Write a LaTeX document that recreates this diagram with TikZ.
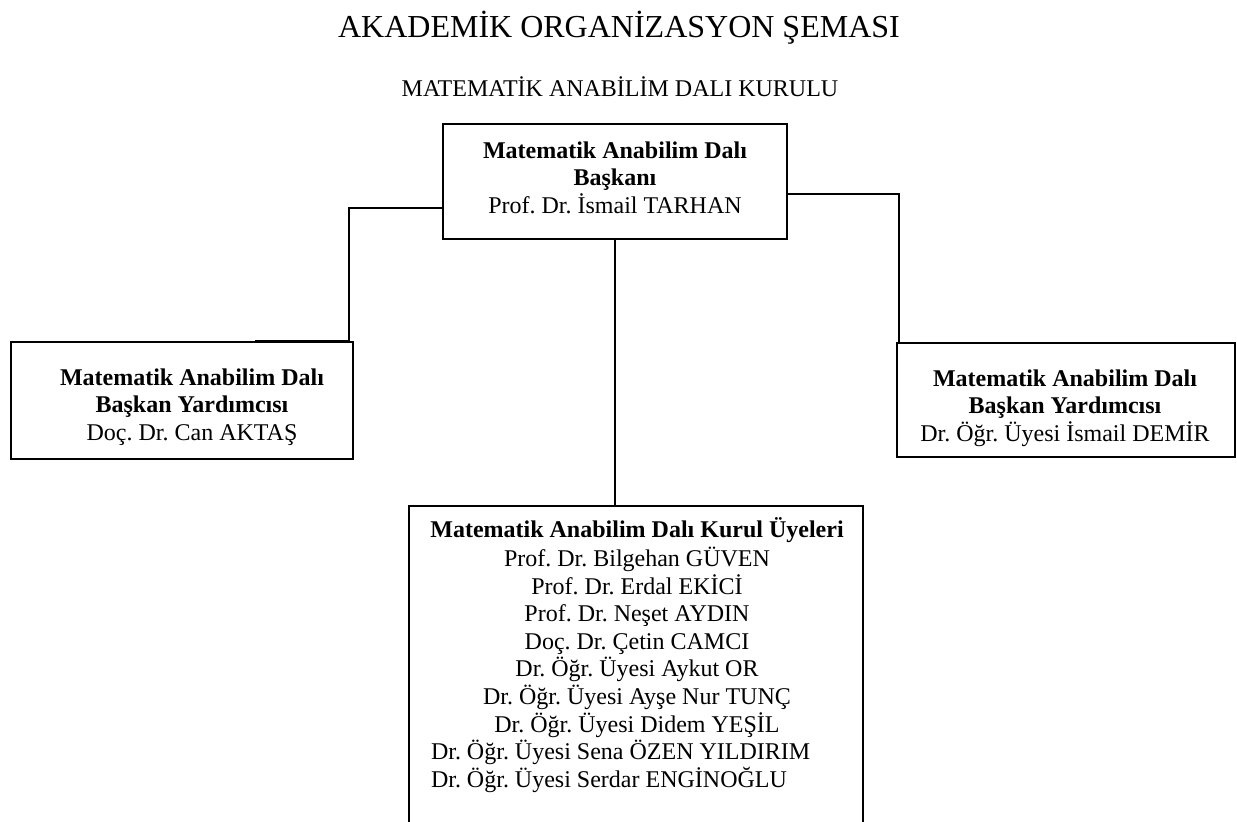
\documentclass[tikz,border=0pt]{standalone}
\usepackage{fontspec}
\setmainfont{Liberation Serif}
\usepackage{tikz}
\frenchspacing

\begin{document}
\begin{tikzpicture}[x=0.5pt, y=-0.5pt, every node/.style={font=\fontsize{12}{13.8}\selectfont},
    kutu/.style={draw, rectangle, line width=1pt},
    yazi/.style={align=center, inner sep=0pt, anchor=north},
    hat/.style={line width=0.8pt}]
                \clip (0,0) rectangle (1237,822);

                % Headings
                \node[anchor=base, font=\fontsize{16}{19}\selectfont] (baslik) at (619,38) {AKADEMİK ORGANİZASYON ŞEMASI};
                \node[anchor=base] (kurul) at (620,97) {MATEMATİK ANABİLİM DALI KURULU};

                % Head of department
                \node[kutu, minimum width=172pt, minimum height=57.5pt] (baskan) at (615,181.5) {};
                \node[yazi] (baskantxt) at (615,141) {\textbf{Matematik Anabilim Dalı}\\\textbf{Başkanı}\\Prof. Dr. İsmail TARHAN};

                % Deputy heads
                \node[kutu, minimum width=170.75pt, minimum height=58.5pt] (yardsol) at (181.75,400.5) {};
                \node[yazi] (yardsoltxt) at (192,368) {\textbf{Matematik Anabilim Dalı}\\\textbf{Başkan Yardımcısı}\\Doç. Dr. Can AKTAŞ};

                \node[kutu, minimum width=169pt, minimum height=57pt] (yardsag) at (1066,400) {};
                \node[yazi] (yardsagtxt) at (1065,369) {\textbf{Matematik Anabilim Dalı}\\\textbf{Başkan Yardımcısı}\\Dr. Öğr. Üyesi İsmail DEMİR};

                % Board members
                \node[kutu, minimum width=227pt, minimum height=167pt] (uyeler) at (636,673) {};
                \node[yazi] (uyelertxt) at (637,517) {\textbf{Matematik Anabilim Dalı Kurul Üyeleri}\\[0.75pt]
                    Prof. Dr. Bilgehan GÜVEN\\
                    Prof. Dr. Erdal EKİCİ\\
                    Prof. Dr. Neşet AYDIN\\
                    Doç. Dr. Çetin CAMCI\\
                    Dr. Öğr. Üyesi Aykut OR\\
                    Dr. Öğr. Üyesi Ayşe Nur TUNÇ\\
                    Dr. Öğr. Üyesi Didem YEŞİL\\
                    \makebox[206pt][l]{Dr. Öğr. Üyesi Sena ÖZEN YILDIRIM}\\
                    \makebox[206pt][l]{Dr. Öğr. Üyesi Serdar ENGİNOĞLU}};

                % Connectors
                \draw[hat] ([yshift=-13.25pt]baskan.west) -| ([xshift=83.6pt]yardsol.north) -- ([xshift=36.6pt]yardsol.north);
                \draw[hat] ([yshift=-6.25pt]baskan.east) -| ([xshift=1.5pt]yardsag.north west);
                \draw[hat] (baskan.south) -- (baskan.south |- uyeler.north);
            \end{tikzpicture}
\end{document}
